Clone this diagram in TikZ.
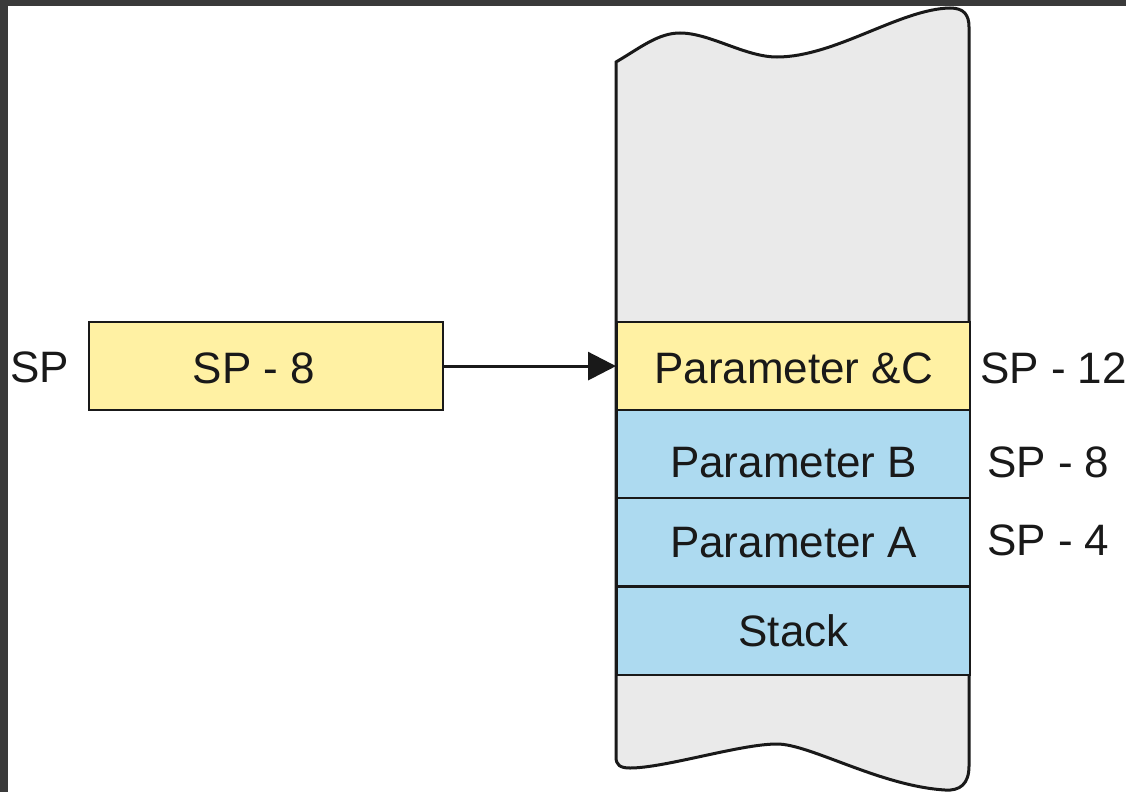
\documentclass[tikz,border=0pt]{standalone}
\usepackage{fontspec}
\setmainfont{Liberation Sans}
\usetikzlibrary{arrows.meta}
\definecolor{cellyellow}{RGB}{255,241,163}
\definecolor{cellblue}{RGB}{173,218,240}
\definecolor{stackgray}{RGB}{234,234,234}
\definecolor{framegray}{RGB}{58,58,58}
\definecolor{ink}{RGB}{25,25,25}
\tikzset{
  cell/.style={draw=ink, line width=2.2pt, minimum width=353pt, minimum height=88pt, inner sep=0pt, anchor=north west, font=\fontsize{44}{52}\selectfont, text=ink},
  lbl/.style={inner sep=0pt, anchor=west, font=\fontsize{44}{52}\selectfont, text=ink},
  ctext/.style={lbl, anchor=center},
}
\begin{document}
\begin{tikzpicture}[x=1pt,y=-1pt]
\useasboundingbox (0,0) rectangle (1126,792);
\fill[white] (0,0) rectangle (1126,792);
\fill[framegray] (0,0) rectangle (1126,6);
\fill[framegray] (0,0) rectangle (8,792);
% stack column outline
\draw[ink, line width=3pt, fill=stackgray]
  (616,62) .. controls (640,48) and (658,33) .. (680,33)
  .. controls (710,33) and (745,57) .. (777,57)
  .. controls (835,57) and (900,9) .. (950,8)
  .. controls (964,8) and (969,15) .. (969,27)
  -- (969,766)
  .. controls (969,784) and (960,791) .. (945,790)
  .. controls (880,786) and (810,744) .. (777,744)
  .. controls (740,744) and (665,768) .. (630,768)
  .. controls (620,768) and (616,765) .. (616,757)
  -- cycle;
% cells
\node[cell, fill=cellyellow] (pc) at (616,321) {};
\node[ctext] (pctext) at ([yshift=-2pt]pc.center) {Parameter \&C};
\node[cell, fill=cellblue] (pb) at (616,409) {};
\node[ctext] (pbtext) at ([yshift=-8pt]pb.center) {Parameter B};
\node[cell, fill=cellblue] (pa) at (616,497) {Parameter A};
\node[cell, fill=cellblue] (st) at (616,586) {Stack};
% SP box
\node[cell, fill=cellyellow, minimum width=354pt] (sp) at (88,321) {};
\node[ctext] (sptext) at ([xshift=-12pt,yshift=-2pt]sp.center) {SP - 8};
\node[lbl] (splbl) at (10,367) {SP};
% right labels
\node[lbl] (l12) at (980,368) {SP - 12};
\node[lbl] (l8) at (987,462) {SP - 8};
\node[lbl] (l4) at (987,540) {SP - 4};
% arrow
\draw[ink, line width=3pt, -{Triangle[length=28pt,width=28pt]}] (sp.east) -- (pc.west);
\end{tikzpicture}
\end{document}
